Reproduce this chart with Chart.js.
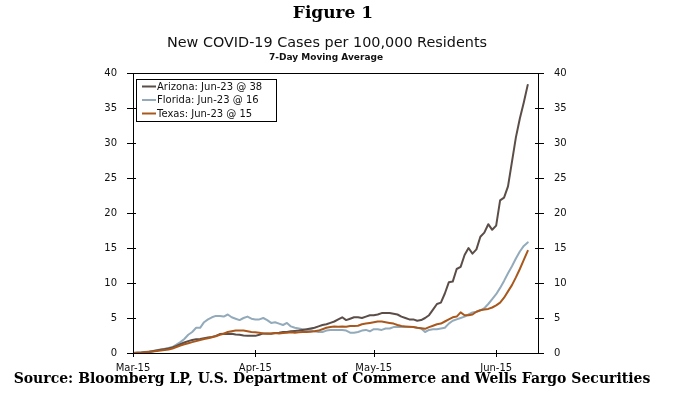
<!DOCTYPE html>
<html>
<head>
<meta charset="utf-8">
<script src="https://cdn.jsdelivr.net/npm/chart.js@4"></script>
<style>
  body { margin: 0; background: #fff; }
  .wrap { position: relative; width: 678px; height: 397px; overflow: hidden; }
  canvas { position: absolute; left: 0; top: 0; }
  .txt { position: absolute; text-align: center; white-space: nowrap; color: #000; }
  #fig { left: 133px; width: 400px; top: 4px; font: bold 17px/17px "DejaVu Serif"; }
  #title { left: 127px; width: 400px; top: 35px; font: 14.4px/14px "DejaVu Sans"; color: #111; }
  #subtitle { left: 126px; width: 400px; top: 53px; font: bold 9px/9px "DejaVu Sans"; color: #111; }
  #source { left: 0; width: 664px; top: 371px; font: bold 14px/14px "DejaVu Serif"; }
</style>
</head>
<body>
<div class="wrap">
  <canvas id="chart" width="678" height="397"></canvas>
  <div class="txt" id="fig">Figure 1</div>
  <div class="txt" id="title">New COVID-19 Cases per 100,000 Residents</div>
  <div class="txt" id="subtitle">7-Day Moving Average</div>
  <div class="txt" id="source">Source: Bloomberg LP, U.S. Department of Commerce and Wells Fargo Securities</div>
</div>
<script>
// days counted from Mar-15, one value per day up to Jun-23
const arizona = [
  0, 0.02, 0.05, 0.1, 0.15, 0.25, 0.35, 0.45, 0.55, 0.65,
  0.8, 1.0, 1.25, 1.5, 1.7, 1.85, 1.95, 2.0, 2.1, 2.2,
  2.3, 2.45, 2.7, 2.75, 2.7, 2.75, 2.65, 2.6, 2.5, 2.45,
  2.45, 2.45, 2.6, 2.8, 2.8, 2.75, 2.85, 2.9, 3.0, 3.0,
  3.1, 3.15, 3.2, 3.3, 3.4, 3.5, 3.6, 3.8, 4.0, 4.1,
  4.3, 4.5, 4.8, 5.1, 4.7, 4.9, 5.1, 5.1, 5.0, 5.2,
  5.4, 5.4, 5.5, 5.7, 5.7, 5.7, 5.6, 5.5, 5.2, 5.0,
  4.8, 4.8, 4.6, 4.7, 5.0, 5.4, 6.2, 7.0, 7.2, 8.5,
  10.1, 10.2, 12.0, 12.3, 14.0, 15.0, 14.2, 14.8, 16.6, 17.2,
  18.4, 17.6, 18.2, 21.8, 22.2, 23.8, 27.3, 30.8, 33.5, 35.8,
  38.3
];
const florida = [
  0, 0.03, 0.08, 0.15, 0.22, 0.3, 0.4, 0.5, 0.6, 0.72,
  0.85, 1.2, 1.55, 2.0, 2.6, 3.0, 3.6, 3.6, 4.4, 4.8,
  5.1, 5.3, 5.3, 5.2, 5.5, 5.1, 4.9, 4.7, 5.0, 5.2,
  4.9, 4.8, 4.8, 5.0, 4.7, 4.3, 4.4, 4.2, 4.0, 4.3,
  3.8, 3.6, 3.5, 3.4, 3.3, 3.3, 3.1, 3.0, 3.0, 3.2,
  3.3, 3.3, 3.3, 3.3, 3.2, 2.9, 2.9, 3.0, 3.2, 3.3,
  3.1, 3.4, 3.4, 3.3, 3.5, 3.5, 3.7, 3.7, 3.7, 3.7,
  3.7, 3.7, 3.6, 3.5, 3.0, 3.3, 3.4, 3.4, 3.5, 3.6,
  4.2, 4.6, 4.8, 5.0, 5.2, 5.5, 5.8, 5.9, 6.1, 6.4,
  7.0, 7.7, 8.4, 9.3, 10.3, 11.4, 12.4, 13.5, 14.5, 15.3,
  15.8
];
const texas = [
  0, 0.02, 0.05, 0.1, 0.15, 0.2, 0.28, 0.35, 0.42, 0.5,
  0.65, 0.85, 1.05, 1.25, 1.4, 1.55, 1.7, 1.85, 2.0, 2.1,
  2.25, 2.4, 2.6, 2.75, 3.0, 3.1, 3.2, 3.2, 3.2, 3.1,
  3.0, 2.95, 2.9, 2.8, 2.75, 2.8, 2.85, 2.8, 2.85, 2.9,
  2.95, 2.9, 2.95, 3.0, 3.0, 3.05, 3.1, 3.2, 3.4, 3.6,
  3.7, 3.8, 3.75, 3.8, 3.75, 3.85, 3.85, 3.9, 4.1, 4.2,
  4.3, 4.4, 4.5, 4.5, 4.4, 4.3, 4.2, 4.0, 3.85, 3.8,
  3.75, 3.7, 3.6, 3.55, 3.45, 3.7, 3.9, 4.1, 4.2, 4.5,
  4.8, 5.1, 5.2, 5.8, 5.4, 5.4, 5.5, 5.9, 6.1, 6.2,
  6.3, 6.5, 6.8, 7.2, 7.9, 8.8, 9.7, 10.8, 12.0, 13.3,
  14.6
];
const seriesNames = ["Arizona: Jun-23 @ 38", "Florida: Jun-23 @ 16", "Texas: Jun-23 @ 15"];
const seriesColors = ["#5b4e48", "#93aabb", "#a9581d"];
const tickDays = [0, 31, 61, 92];
const tickLabels = ["Mar-15", "Apr-15", "May-15", "Jun-15"];
const yTicks = [0, 5, 10, 15, 20, 25, 30, 35, 40];

function toPoints(arr) {
  return arr.map((v, i) => ({ x: i, y: v }));
}

const frameAndLegend = {
  id: "frameAndLegend",
  afterDatasetsDraw(chart) {
    const { ctx, chartArea: a, scales } = chart;
    ctx.save();
    ctx.strokeStyle = "#000";
    ctx.lineWidth = 1;
    ctx.strokeRect(a.left + 0.5, a.top + 0.5, a.right - a.left, a.bottom - a.top);

    ctx.beginPath();
    yTicks.forEach((t) => {
      const y = Math.round(scales.y.getPixelForValue(t)) + 0.5;
      ctx.moveTo(a.left - 6, y); ctx.lineTo(a.left + 3, y);
      ctx.moveTo(a.right - 3, y); ctx.lineTo(a.right + 6, y);
    });
    tickDays.forEach((d) => {
      const x = Math.round(scales.x.getPixelForValue(d)) + 0.5;
      ctx.moveTo(x, a.bottom - 3); ctx.lineTo(x, a.bottom + 4);
    });
    ctx.stroke();

    // legend box
    const bx = 136.5, by = 79.5, bw = 140, bh = 42;
    ctx.fillStyle = "#fff";
    ctx.fillRect(bx, by, bw, bh);
    ctx.strokeRect(bx, by, bw, bh);
    ctx.font = "10px 'DejaVu Sans'";
    ctx.textBaseline = "middle";
    ctx.textAlign = "left";
    seriesNames.forEach((name, i) => {
      const y = 86.5 + i * 13.5;
      ctx.strokeStyle = seriesColors[i];
      ctx.lineWidth = 2;
      ctx.beginPath();
      ctx.moveTo(142, y); ctx.lineTo(156, y);
      ctx.stroke();
      ctx.fillStyle = "#111";
      ctx.fillText(name, 157, y + 0.5);
    });
    ctx.restore();
  }
};

const yAxisCommon = {
  type: "linear",
  min: 0,
  max: 40,
  grid: { display: false },
  border: { display: false },
  ticks: {
    stepSize: 5,
    padding: 8,
    color: "#111",
    font: { family: "DejaVu Sans", size: 10 }
  }
};

new Chart(document.getElementById("chart"), {
  type: "line",
  data: {
    datasets: [
      { label: seriesNames[0], data: toPoints(arizona), borderColor: seriesColors[0], order: 1 },
      { label: seriesNames[1], data: toPoints(florida), borderColor: seriesColors[1], order: 2 },
      { label: seriesNames[2], data: toPoints(texas), borderColor: seriesColors[2], order: 0 }
    ]
  },
  options: {
    responsive: false,
    animation: false,
    events: [],
    layout: { padding: { left: 0, right: 0, top: 73, bottom: 0 } },
    elements: {
      point: { radius: 0 },
      line: { borderWidth: 2, tension: 0, borderCapStyle: "round", borderJoinStyle: "round" }
    },
    plugins: { legend: { display: false }, tooltip: { enabled: false } },
    scales: {
      x: {
        type: "linear",
        min: 0,
        max: 102.6,
        grid: { display: false },
        border: { display: false },
        afterBuildTicks: (scale) => { scale.ticks = tickDays.map((v) => ({ value: v })); },
        afterFit: (scale) => { scale.height = 44; },
        ticks: {
          autoSkip: false,
          maxRotation: 0,
          padding: 1,
          color: "#111",
          font: { family: "DejaVu Sans", size: 10 },
          callback: (v) => tickLabels[tickDays.indexOf(v)]
        }
      },
      y: Object.assign({}, yAxisCommon, {
        position: "left",
        afterFit: (scale) => { scale.width = 133; }
      }),
      y2: Object.assign({}, yAxisCommon, {
        position: "right",
        afterFit: (scale) => { scale.width = 140; }
      })
    }
  },
  plugins: [frameAndLegend]
});
</script>
</body>
</html>
